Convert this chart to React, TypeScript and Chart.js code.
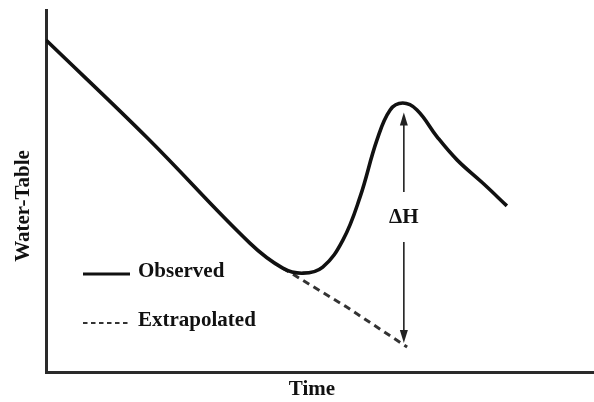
import React, { useEffect, useRef } from "react";
import { Chart, registerables } from "chart.js";

Chart.register(...registerables);

// Time (arbitrary units 0-100) and water-table level (arbitrary units 0-100)
const observedTime = [0, 18.6, 37.2, 43.2, 46.9, 50.5, 54.2, 57.3, 60.4, 62.8, 65.1, 67.7, 71.4, 75.0, 79.7, 84.1];
const observedLevel = [91.7, 64.5, 35.6, 28.7, 27.3, 29.0, 36.5, 48.3, 64.1, 72.4, 74.3, 72.4, 64.9, 58.6, 52.2, 45.9];

const extrapolatedTime = [43.2, 54.6, 65.9];
const extrapolatedLevel = [28.7, 18.2, 6.9];

// ΔH arrow: at the time of the peak, between extrapolated level and the peak
const deltaTime = [65.3];
const deltaBottom = [8.0];
const deltaTop = [71.7];
const deltaLabelLevel = [42.8];

const seriesNames = ["Observed", "Extrapolated"];
const axisTitles = { x: "Time", y: "Water-Table" };

const FONT = "bold 21px 'Liberation Serif', 'Times New Roman', serif";

const overlayPlugin = {
  id: "overlay",
  afterDatasetsDraw(chart: any) {
    const { ctx, chartArea, scales } = chart;
    const xs = scales.x;
    const ys = scales.y;
    ctx.save();

    // ΔH arrow
    const ax = xs.getPixelForValue(deltaTime[0]);
    const yTop = ys.getPixelForValue(deltaTop[0]);
    const yBot = ys.getPixelForValue(deltaBottom[0]);
    const yLab = ys.getPixelForValue(deltaLabelLevel[0]);
    const gap = 25;
    ctx.strokeStyle = "#222";
    ctx.fillStyle = "#222";
    ctx.lineWidth = 1.6;
    ctx.beginPath();
    ctx.moveTo(ax, yTop + 8);
    ctx.lineTo(ax, yLab - gap);
    ctx.moveTo(ax, yLab + gap);
    ctx.lineTo(ax, yBot - 8);
    ctx.stroke();
    const head = (tipY: number, dir: number) => {
      ctx.beginPath();
      ctx.moveTo(ax, tipY);
      ctx.lineTo(ax - 4, tipY + dir * 13);
      ctx.lineTo(ax + 4, tipY + dir * 13);
      ctx.closePath();
      ctx.fill();
    };
    head(yTop, 1);
    head(yBot, -1);

    ctx.font = FONT;
    ctx.fillStyle = "#111";
    ctx.textAlign = "center";
    ctx.textBaseline = "middle";
    ctx.fillText("\u0394H", ax, yLab + 1);

    // Legend (inside plot, lower left)
    const ds = chart.data.datasets;
    const lx0 = chartArea.left + 37;
    const lx1 = chartArea.left + 84;
    const rows = [274, 323];
    ds.forEach((d: any, i: number) => {
      const y = rows[i];
      ctx.beginPath();
      ctx.strokeStyle = d.borderColor;
      ctx.lineWidth = i === 0 ? 3 : 2.2;
      ctx.setLineDash(i === 0 ? [] : [4.5, 3.5]);
      ctx.moveTo(lx0, y);
      ctx.lineTo(lx1, y);
      ctx.stroke();
      ctx.setLineDash([]);
      ctx.fillStyle = "#111";
      ctx.textAlign = "left";
      ctx.textBaseline = "middle";
      ctx.font = FONT;
      ctx.fillText(d.label, lx1 + 8, y - 2);
    });

    // Axis titles
    ctx.fillStyle = "#111";
    ctx.font = FONT;
    ctx.textAlign = "center";
    ctx.textBaseline = "middle";
    ctx.fillText(axisTitles.x, 312, 390);
    ctx.translate(24, 206);
    ctx.rotate(-Math.PI / 2);
    ctx.fillText(axisTitles.y, 0, 0);
    ctx.restore();
  },
};

export default function App() {
  const ref = useRef<HTMLCanvasElement | null>(null);

  useEffect(() => {
    if (!ref.current) return;
    const chart = new Chart(ref.current, {
      type: "line",
      data: {
        datasets: [
          {
            label: seriesNames[0],
            data: observedTime.map((t, i) => ({ x: t, y: observedLevel[i] })),
            borderColor: "#111",
            borderWidth: 3.6,
            pointRadius: 0,
            tension: 0.4,
            fill: false,
          },
          {
            label: seriesNames[1],
            data: extrapolatedTime.map((t, i) => ({ x: t, y: extrapolatedLevel[i] })),
            borderColor: "#333",
            borderWidth: 3,
            borderDash: [7, 5],
            pointRadius: 0,
            fill: false,
          },
        ],
      },
      options: {
        responsive: false,
        animation: false,
        events: [],
        layout: { padding: { left: 46, top: 10, right: 0, bottom: 30 } },
        plugins: { legend: { display: false }, tooltip: { enabled: false } },
        scales: {
          x: {
            type: "linear",
            min: 0,
            max: 100,
            grid: { display: false, drawTicks: false },
            ticks: { display: false },
            border: { display: true, color: "#2a2a2a", width: 3 },
          },
          y: {
            type: "linear",
            min: 0,
            max: 100,
            grid: { display: false, drawTicks: false },
            ticks: { display: false },
            border: { display: true, color: "#2a2a2a", width: 3 },
          },
        },
      },
      plugins: [overlayPlugin],
    });
    return () => chart.destroy();
  }, []);

  return (
    <div style={{ position: "fixed", left: 0, top: 0, width: 594, height: 402, background: "#fff" }}>
      <canvas ref={ref} width={594} height={402} style={{ width: 594, height: 402 }} />
    </div>
  );
}
